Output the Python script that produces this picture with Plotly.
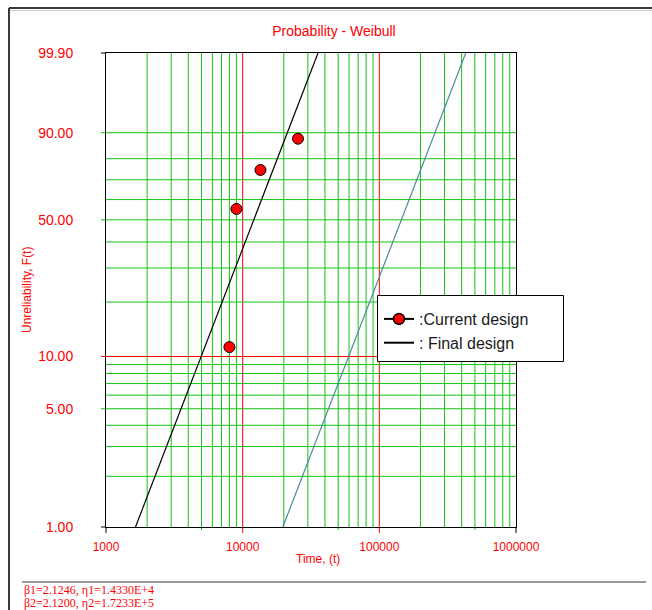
import numpy as np
import plotly.graph_objects as go

# Failure data (time, unreliability in %)
TIME = [8000, 9000, 13500, 25400]
UNREL = [11.3, 55.3, 74.8, 88.0]

# Fitted Weibull parameters: current design, final design
BETA = [2.1246, 2.1200]
ETA = [1.4330e4, 1.7233e5]

# Axis ticks
Y_TICKS = [99.9, 90, 50, 10, 5, 1]
Y_TICK_TEXT = ["99.90", "90.00", "50.00", "10.00", "5.00", "1.00"]
X_TICKS = [1000, 10000, 100000, 1000000]
X_TICK_TEXT = ["1000", "10000", "100000", "1000000"]

# Grid lines
Y_GRID = [90, 80, 70, 60, 50, 40, 30, 20, 10, 9, 8, 7, 6, 5, 4, 3, 2]
X_GRID = [m * 10 ** k for k in (3, 4, 5) for m in range(1, 10) if m * 10 ** k > 1000]
X_MINOR_TICKS = [5000, 50000, 500000]

F_MIN, F_MAX = 1.0, 99.9

SANS = "Arial, Liberation Sans, sans-serif"
SERIF = "Times New Roman, Liberation Serif, serif"
RED = "#ff0000"
GREEN = "#14c414"

W_PX, H_PX = 652, 610
ML, MR, MT, MB = 106, 136, 53, 83
PW, PH = W_PX - ML - MR, H_PX - MT - MB


def wscale(p):
    """Weibull probability scale: ln(-ln(1 - F))."""
    p = np.asarray(p, dtype=float) / 100.0
    return np.log(-np.log(1.0 - p))


def weibull_time(p, beta, eta):
    p = np.asarray(p, dtype=float) / 100.0
    return eta * (-np.log(1.0 - p)) ** (1.0 / beta)


def px_x(px):
    return (px - ML) / PW


def px_y(py):
    return (H_PX - MB - py) / PH


def sci(v):
    e = int(np.floor(np.log10(v)))
    return f"{v / 10 ** e:.4f}E+{e}"


fig = go.Figure()

# Fitted lines
line_colors = ["#000000", "#4a8c98"]
for b, e, c in zip(BETA, ETA, line_colors):
    ends = [F_MIN, F_MAX]
    fig.add_trace(go.Scatter(
        x=weibull_time(ends, b, e), y=wscale(ends), mode="lines",
        line=dict(color=c, width=1.2), showlegend=False, hoverinfo="skip"))

# Data points
fig.add_trace(go.Scatter(
    x=TIME, y=wscale(UNREL), mode="markers",
    marker=dict(size=11, color=RED, line=dict(color="#000", width=1)),
    showlegend=False, cliponaxis=False))

# Legend entries
fig.add_trace(go.Scatter(
    x=[None], y=[None], mode="lines+markers", name=":Current design",
    line=dict(color="#000", width=2),
    marker=dict(size=11, color=RED, line=dict(color="#000", width=1.5))))
fig.add_trace(go.Scatter(
    x=[None], y=[None], mode="lines", name=": Final design",
    line=dict(color="#000", width=2)))

shapes = []
# vertical grid
for v in X_GRID:
    col = RED if v in (10000, 100000) else GREEN
    if v in (10000, 100000):
        y0 = -6 / PH
    elif v in X_MINOR_TICKS:
        y0 = -3 / PH
    else:
        y0 = 0
    shapes.append(dict(type="line", xref="x", yref="paper", x0=v, x1=v, y0=y0, y1=1,
                       line=dict(color=col, width=1), layer="below"))
# horizontal grid
for p in Y_GRID:
    col = RED if p == 10 else GREEN
    x0 = -5 / PW if p in Y_TICKS else 0
    w = float(wscale(p))
    shapes.append(dict(type="line", xref="paper", yref="y", x0=x0, x1=1, y0=w, y1=w,
                       line=dict(color=col, width=1), layer="below"))
# black tick stubs at the frame corners
for xp in (0, 1):
    shapes.append(dict(type="line", xref="paper", yref="paper", x0=xp, x1=xp,
                       y0=-6 / PH, y1=0, line=dict(color="#000", width=1)))
for yp in (0, 1):
    shapes.append(dict(type="line", xref="paper", yref="paper", x0=-5 / PW, x1=0,
                       y0=yp, y1=yp, line=dict(color="#000", width=1)))
# outer frame and footer rule
shapes.append(dict(type="line", xref="paper", yref="paper", x0=px_x(9), x1=px_x(652),
                   y0=px_y(8), y1=px_y(8), line=dict(color="#3a3a3a", width=2)))
shapes.append(dict(type="line", xref="paper", yref="paper", x0=px_x(10), x1=px_x(652),
                   y0=px_y(10.5), y1=px_y(10.5), line=dict(color="#cccccc", width=1)))
shapes.append(dict(type="line", xref="paper", yref="paper", x0=px_x(9), x1=px_x(9),
                   y0=px_y(8), y1=px_y(610), line=dict(color="#3a3a3a", width=2)))
shapes.append(dict(type="line", xref="paper", yref="paper", x0=px_x(22), x1=px_x(646),
                   y0=px_y(582), y1=px_y(582), line=dict(color="#333333", width=1)))
# legend box
shapes.append(dict(type="rect", xref="paper", yref="paper",
                   x0=px_x(377.5), x1=px_x(563.5), y0=px_y(361.5), y1=px_y(295.5),
                   fillcolor="white", line=dict(color="#000", width=1), layer="above"))

annotations = [
    dict(text="Time, (t)", xref="paper", yref="paper", x=px_x(318), y=px_y(559),
         showarrow=False, font=dict(family=SANS, size=12, color=RED),
         xanchor="center", yanchor="middle"),
    dict(text="Unreliability, F(t)", xref="paper", yref="paper", x=px_x(27), y=px_y(290),
         showarrow=False, textangle=-90, font=dict(family=SANS, size=12, color=RED),
         xanchor="center", yanchor="middle"),
]
for i, (b, e) in enumerate(zip(BETA, ETA), start=1):
    annotations.append(dict(
        text=f"β{i}={b:.4f}, η{i}={sci(e)}", xref="paper", yref="paper",
        x=px_x(22), y=px_y(590 + 13 * (i - 1)), showarrow=False,
        xanchor="left", yanchor="middle", font=dict(family=SERIF, size=12, color=RED)))

fig.update_layout(
    width=W_PX, height=H_PX,
    margin=dict(l=ML, r=MR, t=MT, b=MB),
    paper_bgcolor="white", plot_bgcolor="white",
    title=dict(text="Probability - Weibull", x=334 / W_PX, xanchor="center",
               y=1 - 31 / H_PX, yanchor="middle", yref="container",
               font=dict(family=SANS, size=14, color=RED)),
    xaxis=dict(type="log", range=[3, 6], tickvals=X_TICKS, ticktext=X_TICK_TEXT,
               ticks="outside", ticklen=5, tickcolor="rgba(0,0,0,0)",
               ticklabelstandoff=4,
               tickfont=dict(family=SANS, size=12, color=RED),
               showgrid=False, zeroline=False, showline=True, mirror=True,
               linecolor="#000", linewidth=1),
    yaxis=dict(range=[float(wscale(F_MIN)), float(wscale(F_MAX))],
               tickvals=[float(v) for v in wscale(Y_TICKS)], ticktext=Y_TICK_TEXT,
               ticks="outside", ticklen=5, tickcolor="rgba(0,0,0,0)",
               ticklabelstandoff=24,
               tickfont=dict(family=SANS, size=14, color=RED),
               showgrid=False, zeroline=False, showline=True, mirror=True,
               linecolor="#000", linewidth=1),
    legend=dict(x=px_x(379), y=px_y(302), xanchor="left", yanchor="top",
                bgcolor="rgba(0,0,0,0)", borderwidth=0,
                font=dict(family=SANS, size=16, color="#1a1a1a"),
                tracegroupgap=0),
    shapes=shapes,
    annotations=annotations,
    hovermode=False,
)

fig.write_html("out.html")
